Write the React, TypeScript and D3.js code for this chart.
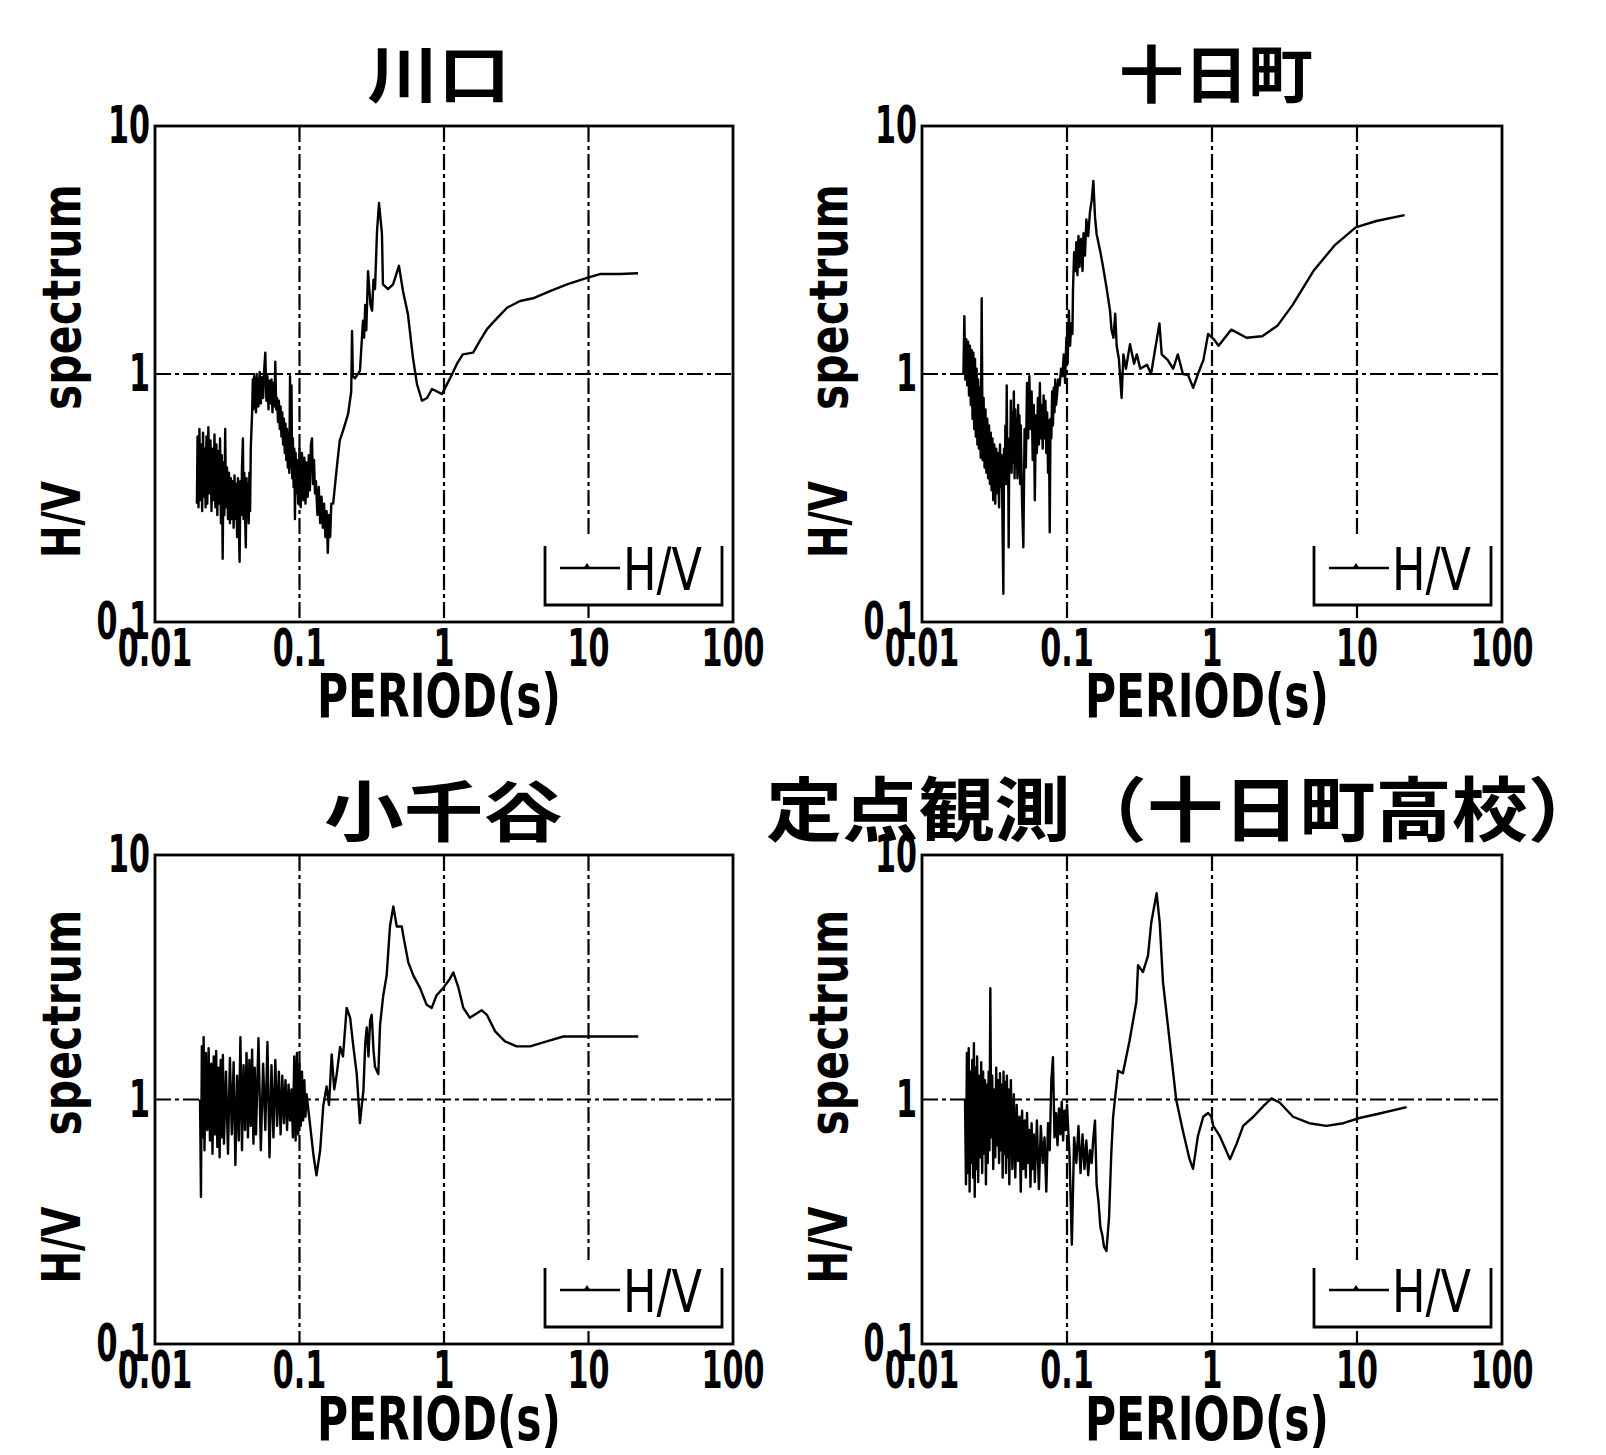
import React from 'react';
import * as d3 from 'd3';

// H/V spectral ratio, four sites (period in s, ratio)
const stationNames = ['川口', '十日町', '小千谷', '定点観測（十日町高校）'];
const periodTicks = [0.01, 0.1, 1, 10, 100];
const periodTickLabels = ['0.01', '0.1', '1', '10', '100'];
const hvTicks = [0.1, 1, 10];
const hvTickLabels = ['0.1', '1', '10'];
const gridPeriods = [0.1, 1, 10];
const gridHV = [1];
const legendLabel = 'H/V';

const kawaguchi: [number, number][] = [
  [0.0195,0.30],[0.0197,0.56],[0.0200,0.29],[0.0203,0.60],[0.0206,0.31],[0.0209,0.52],[0.0212,0.28],[0.0215,0.58],[0.0218,0.32],[0.0221,0.50],
  [0.0224,0.29],[0.0227,0.56],[0.0230,0.30],[0.0234,0.61],[0.0238,0.33],[0.0242,0.54],[0.0246,0.28],[0.0250,0.50],[0.0254,0.31],[0.0258,0.57],
  [0.0262,0.29],[0.0266,0.52],[0.0270,0.27],[0.0274,0.49],[0.0278,0.30],[0.0282,0.55],[0.0286,0.25],[0.0290,0.47],[0.0294,0.18],[0.0298,0.44],
  [0.0302,0.27],[0.0306,0.60],[0.0310,0.29],[0.0315,0.42],[0.0320,0.26],[0.0325,0.40],[0.0330,0.25],[0.0335,0.38],[0.0340,0.26],[0.0345,0.37],
  [0.0350,0.24],[0.0355,0.39],[0.0360,0.26],[0.0365,0.36],[0.0370,0.22],[0.0375,0.38],[0.0380,0.25],[0.0385,0.175],[0.0390,0.37],[0.0395,0.27],
  [0.0400,0.42],[0.0406,0.55],[0.0410,0.26],[0.0415,0.40],[0.0420,0.27],[0.0425,0.20],[0.0430,0.38],[0.0435,0.27],[0.0440,0.36],[0.0445,0.25],
  [0.0450,0.40],[0.0455,0.28],[0.0460,0.50],[0.0470,0.70],[0.0475,0.95],[0.0480,0.72],[0.0485,0.98],[0.0490,0.76],[0.0495,0.93],[0.0500,0.70],
  [0.0505,1.00],[0.0510,0.78],[0.0515,0.96],[0.0520,0.74],[0.0530,1.02],[0.0540,0.76],[0.0550,0.97],[0.0560,0.80],[0.0570,1.05],[0.0580,1.22],
  [0.0590,0.78],[0.0600,0.98],[0.0610,0.72],[0.0620,0.94],[0.0630,0.76],[0.0640,0.95],[0.0650,0.70],[0.0660,0.92],[0.0670,0.74],[0.0680,1.12],
  [0.0690,0.72],[0.0700,0.80],[0.0710,0.64],[0.0720,0.78],[0.0730,0.60],[0.0740,0.74],[0.0750,0.56],[0.0760,0.70],[0.0770,0.52],[0.0780,0.66],
  [0.0790,0.48],[0.0800,0.63],[0.0810,0.45],[0.0820,0.60],[0.0830,0.42],[0.0840,0.58],[0.0850,0.40],[0.0860,0.98],[0.0870,0.42],[0.0880,0.90],
  [0.0890,0.38],[0.0900,0.55],[0.0910,0.35],[0.0920,0.50],[0.0930,0.26],[0.0940,0.48],[0.0950,0.33],[0.0960,0.45],[0.0980,0.30],[0.1000,0.50],
  [0.1020,0.29],[0.1040,0.48],[0.1060,0.31],[0.1080,0.46],[0.1100,0.30],[0.1120,0.44],[0.1140,0.32],[0.1160,0.47],[0.1180,0.34],[0.1200,0.52],
  [0.1220,0.55],[0.1240,0.36],[0.1260,0.45],[0.1280,0.33],[0.1300,0.37],[0.1330,0.27],[0.1360,0.35],[0.1390,0.25],[0.1420,0.32],[0.1450,0.24],
  [0.1480,0.30],[0.1510,0.22],[0.1540,0.28],[0.1570,0.19],[0.1600,0.27],[0.1630,0.22],[0.1660,0.30],[0.171,0.30],[0.182,0.43],[0.190,0.54],
  [0.200,0.59],[0.217,0.69],[0.228,0.85],[0.231,1.49],[0.234,0.98],[0.242,0.96],[0.262,1.03],[0.275,1.64],[0.280,1.40],[0.285,1.90],
  [0.290,1.50],[0.298,2.60],[0.310,1.90],[0.318,1.80],[0.325,2.40],[0.333,2.20],[0.344,3.77],[0.355,4.89],[0.372,3.67],[0.378,2.30],
  [0.410,2.20],[0.444,2.30],[0.488,2.73],[0.520,2.16],[0.563,1.74],[0.610,1.16],[0.650,0.91],[0.704,0.78],[0.763,0.80],[0.826,0.87],
  [0.895,0.85],[0.969,0.83],[1.05,0.91],[1.14,1.00],[1.23,1.10],[1.35,1.20],[1.59,1.22],[1.77,1.36],[1.99,1.52],[2.33,1.68],
  [2.73,1.85],[3.36,1.97],[4.13,2.02],[5.42,2.16],[7.10,2.30],[9.77,2.44],[12.0,2.53],[16.5,2.53],[22.0,2.55],
];

const tokamachi: [number, number][] = [
  [0.0193,1.00],[0.0196,1.71],[0.0199,0.95],[0.0202,1.38],[0.0205,0.90],[0.0208,1.35],[0.0211,0.82],[0.0214,1.30],[0.0217,0.75],[0.0220,1.25],
  [0.0223,0.66],[0.0226,1.22],[0.0229,0.60],[0.0232,1.15],[0.0235,0.56],[0.0238,1.05],[0.0241,0.52],[0.0244,0.95],[0.0247,0.50],[0.0250,0.88],
  [0.0254,0.46],[0.0258,2.02],[0.0262,0.45],[0.0266,0.80],[0.0270,0.42],[0.0274,0.72],[0.0278,0.40],[0.0282,0.66],[0.0286,0.38],[0.0290,0.62],
  [0.0294,0.36],[0.0298,0.58],[0.0302,0.34],[0.0306,0.55],[0.0310,0.31],[0.0315,0.52],[0.0320,0.30],[0.0325,0.50],[0.0330,0.33],[0.0335,0.48],
  [0.0340,0.29],[0.0345,0.52],[0.0350,0.35],[0.0355,0.47],[0.0360,0.22],[0.0364,0.13],[0.0368,0.50],[0.0372,0.38],[0.0376,0.62],[0.0380,0.36],
  [0.0384,0.90],[0.0388,0.40],[0.0392,0.55],[0.0396,0.20],[0.0400,0.52],[0.0405,0.42],[0.0410,0.78],[0.0415,0.40],[0.0420,0.70],[0.0425,0.44],
  [0.0430,0.85],[0.0435,0.38],[0.0440,0.72],[0.0445,0.42],[0.0450,0.66],[0.0455,0.38],[0.0460,0.75],[0.0465,0.40],[0.0470,0.68],[0.0475,0.36],
  [0.0480,0.62],[0.0490,0.30],[0.0500,0.20],[0.0510,0.60],[0.0520,0.42],[0.0530,0.92],[0.0540,0.55],[0.0550,0.98],[0.0560,0.60],[0.0570,0.85],
  [0.0580,0.45],[0.0590,0.75],[0.0600,0.31],[0.0610,0.68],[0.0620,0.48],[0.0630,0.80],[0.0640,0.52],[0.0650,0.92],[0.0660,0.55],[0.0670,0.75],
  [0.0680,0.50],[0.0690,0.82],[0.0700,0.55],[0.0710,0.78],[0.0720,0.48],[0.0730,0.70],[0.0740,0.40],[0.0750,0.65],[0.0760,0.23],[0.0770,0.66],
  [0.0780,0.55],[0.0790,0.85],[0.0800,0.62],[0.0810,0.88],[0.0820,0.70],[0.0830,0.95],[0.0840,0.75],[0.0850,0.80],[0.0870,0.95],[0.0890,0.90],
  [0.0910,1.05],[0.0930,0.98],[0.0950,1.20],[0.0970,0.92],[0.0990,1.40],[0.1010,1.10],[0.1030,1.80],[0.1050,1.30],[0.1070,1.60],[0.1090,1.45],
  [0.1100,2.20],[0.1120,3.10],[0.1140,2.60],[0.1160,3.40],[0.1180,2.50],[0.1200,3.60],[0.1220,2.70],[0.1250,3.50],[0.1280,2.60],[0.1300,3.70],
  [0.1330,3.00],[0.1360,4.20],[0.1400,3.60],[0.1440,4.50],[0.1480,5.00],[0.1520,6.00],[0.1560,4.30],[0.1600,3.67],[0.1700,3.10],[0.1780,2.67],
  [0.1880,2.20],[0.1980,1.80],[0.2030,1.50],[0.2090,1.40],[0.2150,1.75],[0.2200,1.30],[0.2280,1.15],[0.2380,0.80],[0.2450,1.20],[0.2550,1.05],
  [0.2720,1.32],[0.2900,1.10],[0.3030,1.20],[0.320,1.05],[0.356,1.09],[0.380,1.00],[0.400,1.20],[0.434,1.60],[0.450,1.20],[0.494,1.14],
  [0.540,1.05],[0.581,1.20],[0.630,1.00],[0.684,0.99],[0.742,0.88],[0.800,1.00],[0.873,1.14],[0.940,1.45],[1.03,1.38],[1.11,1.30],
  [1.36,1.51],[1.73,1.40],[2.22,1.42],[2.84,1.57],[3.60,1.90],[5.00,2.60],[7.00,3.30],[9.80,3.90],[13.6,4.14],[21.3,4.37],
];

const ojiya: [number, number][] = [
  [0.0205,1.00],[0.0208,0.40],[0.0211,1.65],[0.0214,0.70],[0.0217,1.80],[0.0220,0.62],[0.0225,1.55],[0.0230,0.75],[0.0235,1.62],[0.0240,0.68],
  [0.0245,1.40],[0.0250,0.60],[0.0255,1.50],[0.0260,0.72],[0.0265,1.58],[0.0270,0.64],[0.0275,1.35],[0.0280,0.58],[0.0285,1.45],[0.0290,0.70],
  [0.0295,1.52],[0.0300,0.66],[0.0310,1.30],[0.0320,0.60],[0.0330,1.48],[0.0340,0.72],[0.0350,1.42],[0.0360,0.54],[0.0370,1.25],[0.0380,0.68],
  [0.0390,1.80],[0.0400,0.62],[0.0410,1.38],[0.0420,0.75],[0.0430,1.55],[0.0440,0.70],[0.0450,1.45],[0.0460,0.78],[0.0470,1.60],[0.0480,0.66],
  [0.0490,1.35],[0.0500,0.72],[0.0520,1.78],[0.0540,0.62],[0.0560,1.40],[0.0580,0.75],[0.0600,1.72],[0.0620,0.58],[0.0640,1.38],[0.0660,0.70],
  [0.0680,1.45],[0.0700,0.78],[0.0720,1.30],[0.0740,0.72],[0.0760,1.25],[0.0780,0.80],[0.0800,1.20],[0.0820,0.75],[0.0840,1.15],[0.0860,0.82],
  [0.0880,1.10],[0.0900,0.70],[0.0920,1.50],[0.0940,0.68],[0.0960,1.55],[0.0980,0.72],[0.1000,1.40],[0.1020,0.78],[0.1040,1.30],[0.1060,0.82],
  [0.1080,1.20],[0.1100,0.85],[0.1120,1.05],[0.118,0.80],[0.125,0.59],[0.131,0.49],[0.139,0.62],[0.146,0.94],[0.154,1.13],[0.160,0.95],
  [0.167,1.53],[0.174,1.10],[0.181,1.27],[0.191,1.64],[0.200,1.50],[0.212,2.37],[0.224,2.16],[0.236,1.64],[0.249,1.27],[0.262,0.80],
  [0.270,0.95],[0.277,1.09],[0.285,1.70],[0.292,1.97],[0.300,1.50],[0.308,2.10],[0.316,2.22],[0.325,1.60],[0.333,1.36],[0.351,1.27],
  [0.361,2.02],[0.380,2.67],[0.401,3.22],[0.423,5.12],[0.446,6.16],[0.471,5.10],[0.510,5.10],[0.523,4.67],[0.566,3.64],[0.613,3.22],
  [0.682,2.86],[0.758,2.44],[0.822,2.37],[0.889,2.67],[0.989,2.86],[1.10,3.12],[1.16,3.31],[1.26,2.86],[1.36,2.37],[1.51,2.16],
  [1.68,2.25],[1.82,2.32],[1.98,2.22],[2.26,1.90],[2.64,1.73],[3.18,1.65],[3.94,1.65],[5.14,1.73],[6.70,1.81],[10.8,1.81],[22.1,1.81],
];

const teiten: [number, number][] = [
  [0.0198,1.00],[0.0201,0.45],[0.0204,1.55],[0.0207,0.50],[0.0210,1.62],[0.0213,0.42],[0.0216,1.30],[0.0219,0.55],[0.0222,1.45],[0.0225,0.48],
  [0.0228,1.70],[0.0231,0.40],[0.0234,1.35],[0.0237,0.52],[0.0240,1.50],[0.0244,0.46],[0.0248,1.25],[0.0252,0.58],[0.0256,1.42],[0.0260,0.50],
  [0.0264,1.30],[0.0268,0.60],[0.0272,1.20],[0.0276,0.45],[0.0280,1.15],[0.0284,0.55],[0.0288,1.30],[0.0292,0.62],[0.0296,2.85],[0.0300,0.70],
  [0.0305,1.25],[0.0310,0.52],[0.0315,1.10],[0.0320,0.58],[0.0325,1.35],[0.0330,0.65],[0.0335,1.20],[0.0340,0.55],[0.0345,1.28],[0.0350,0.62],
  [0.0355,1.15],[0.0360,0.48],[0.0365,1.30],[0.0370,0.60],[0.0375,1.18],[0.0380,0.50],[0.0385,1.25],[0.0390,0.58],[0.0395,1.10],[0.0400,0.45],
  [0.0410,1.20],[0.0420,0.52],[0.0430,1.05],[0.0440,0.48],[0.0450,0.95],[0.0460,0.56],[0.0470,0.85],[0.0480,0.42],[0.0490,0.90],[0.0500,0.52],
  [0.0510,0.82],[0.0520,0.48],[0.0530,0.88],[0.0540,0.55],[0.0550,0.75],[0.0560,0.44],[0.0570,0.80],[0.0580,0.52],[0.0590,0.72],[0.0600,0.46],
  [0.0620,0.82],[0.0640,0.43],[0.0660,0.78],[0.0680,0.55],[0.0700,0.70],[0.0720,0.42],[0.0740,0.80],[0.0760,0.62],[0.0780,1.20],[0.0800,1.49],
  [0.0820,0.70],[0.0840,0.88],[0.0860,0.65],[0.0880,0.92],[0.0900,0.72],[0.0920,0.98],[0.0940,0.68],[0.0960,0.90],[0.0980,0.75],[0.1000,0.95],
  [0.1040,0.60],[0.1080,0.255],[0.1120,0.70],[0.1160,0.55],[0.1200,0.78],[0.1240,0.50],[0.1280,0.72],[0.1320,0.52],[0.1360,0.68],[0.1400,0.49],
  [0.1440,0.62],[0.1480,0.55],[0.1520,0.70],[0.1560,0.82],[0.1600,0.45],[0.1650,0.38],[0.1700,0.30],[0.1750,0.28],[0.1800,0.25],[0.1870,0.24],
  [0.1950,0.33],[0.2020,0.60],[0.2080,0.85],[0.2140,1.00],[0.225,1.31],[0.243,1.28],[0.270,1.74],[0.301,2.51],[0.309,3.54],[0.334,3.32],
  [0.362,3.88],[0.381,5.28],[0.415,6.98],[0.436,5.28],[0.459,3.03],[0.510,1.74],[0.566,1.00],[0.628,0.75],[0.700,0.57],[0.740,0.52],
  [0.800,0.71],[0.870,0.85],[0.940,0.88],[0.990,0.85],[1.02,0.78],[1.13,0.71],[1.33,0.57],[1.48,0.66],[1.64,0.78],[1.93,0.85],
  [2.26,0.94],[2.57,1.01],[2.94,0.97],[3.62,0.85],[4.68,0.80],[6.15,0.78],[8.05,0.80],[10.4,0.84],[13.6,0.87],[22.0,0.93],
];

const stationData = [kawaguchi, tokamachi, ojiya, teiten];

// panel boxes and title placement (pixels)
const layout = [
  { left: 155, right: 733, top: 126, bottom: 622, xLabelGap: 95, titleX: 367, titleY: 98, titleSize: 62, titleLen: 143 },
  { left: 922, right: 1502, top: 126, bottom: 622, xLabelGap: 95, titleX: 1119, titleY: 98, titleSize: 62, titleLen: 194 },
  { left: 155, right: 733, top: 855, bottom: 1344, xLabelGap: 96, titleX: 324, titleY: 836, titleSize: 66, titleLen: 239 },
  { left: 922, right: 1502, top: 855, bottom: 1344, xLabelGap: 96, titleX: 766, titleY: 836, titleSize: 70, titleLen: 838 },
];

const latin = "'DejaVu Sans', 'Liberation Sans', sans-serif";
const cjk = "'Noto Sans CJK JP', 'Noto Sans CJK SC', sans-serif";

// original uses a half-width gothic font: fixed char widths
const labelLen = (s: string, w: number) =>
  Array.from(s).reduce((a, c) => a + (c === '.' ? w * 0.55 : w), 0);

function Panel({ box, name, data }: { box: typeof layout[0]; name: string; data: [number, number][] }) {
  const x = d3.scaleLog().domain([0.01, 100]).range([box.left, box.right]);
  const y = d3.scaleLog().domain([0.1, 10]).range([box.bottom, box.top]);
  const line = d3.line<[number, number]>().x(d => x(d[0])).y(d => y(d[1]));
  const mid = (box.top + box.bottom) / 2;
  const lg = { l: box.right - 188, r: box.right - 11, t: box.bottom - 84, b: box.bottom - 17 };
  const dash = '16 4 4 4';

  return (
    <g>
      {gridPeriods.map(t => (
        <line key={'gx' + t} x1={x(t)} x2={x(t)} y1={box.top} y2={box.bottom}
          stroke="#000" strokeWidth={2.2} strokeDasharray={dash} />
      ))}
      {gridHV.map(v => (
        <line key={'gy' + v} x1={box.left} x2={box.right} y1={y(v)} y2={y(v)}
          stroke="#000" strokeWidth={2.2} strokeDasharray={dash} />
      ))}

      <path d={line(data) || ''} fill="none" stroke="#000" strokeWidth={2.4} strokeLinejoin="round" />

      {/* legend */}
      <rect x={lg.l} y={lg.t} width={lg.r - lg.l} height={lg.b - lg.t} fill="#fff" />
      <path d={`M${lg.l},${lg.t + 8}V${lg.b}H${lg.r}V${lg.t + 8}`} fill="none" stroke="#000" strokeWidth={2.8} />
      <line x1={lg.l + 15} x2={lg.l + 75} y1={lg.b - 37} y2={lg.b - 37} stroke="#000" strokeWidth={2.4} />
      <path d={`M${lg.l + 38},${lg.b - 36}L${lg.l + 42},${lg.b - 42}L${lg.l + 46},${lg.b - 36}Z`} fill="#000" />
      <text x={lg.l + 78} y={lg.b - 15} fontFamily={latin} fontSize={58}
        textLength={79} lengthAdjust="spacingAndGlyphs">{legendLabel}</text>

      <rect x={box.left} y={box.top} width={box.right - box.left} height={box.bottom - box.top}
        fill="none" stroke="#000" strokeWidth={2.8} />

      {periodTicks.map((t, i) => (
        <text key={'xt' + t} x={x(t)} y={box.bottom + 44} textAnchor="middle" fontFamily={latin}
          fontWeight="bold" fontSize={52} textLength={labelLen(periodTickLabels[i], 21)}
          lengthAdjust="spacingAndGlyphs">{periodTickLabels[i]}</text>
      ))}
      {hvTicks.map((t, i) => (
        <text key={'yt' + t} x={box.left - 5} y={y(t) + 17} textAnchor="end" fontFamily={latin}
          fontWeight="bold" fontSize={52} textLength={labelLen(hvTickLabels[i], 21)}
          lengthAdjust="spacingAndGlyphs">{hvTickLabels[i]}</text>
      ))}

      <text x={(box.left + box.right) / 2 - 5} y={box.bottom + box.xLabelGap} textAnchor="middle" fontFamily={latin}
        fontWeight="bold" fontSize={60} textLength={244} lengthAdjust="spacingAndGlyphs">PERIOD(s)</text>

      <g transform={`translate(${box.left - 75},${mid + 184}) rotate(-90)`}>
        <text x={0} y={0} fontFamily={latin} fontWeight="bold" fontSize={54}
          textLength={77} lengthAdjust="spacingAndGlyphs">H/V</text>
        <text x={148} y={0} fontFamily={latin} fontWeight="bold" fontSize={54}
          textLength={226} lengthAdjust="spacingAndGlyphs">spectrum</text>
      </g>

      <text x={box.titleX} y={box.titleY} fontFamily={cjk} fontWeight="bold" fontSize={box.titleSize}
        textLength={box.titleLen} lengthAdjust="spacingAndGlyphs">{name}</text>
    </g>
  );
}

export default function App() {
  return (
    <div style={{ position: 'absolute', left: 0, top: 0 }}>
      <svg width={1606} height={1455} viewBox="0 0 1606 1455" style={{ display: 'block', background: '#fff' }}>
        <rect width={1606} height={1455} fill="#fff" />
        {layout.map((box, i) => (
          <Panel key={stationNames[i]} box={box} name={stationNames[i]} data={stationData[i]} />
        ))}
      </svg>
    </div>
  );
}
